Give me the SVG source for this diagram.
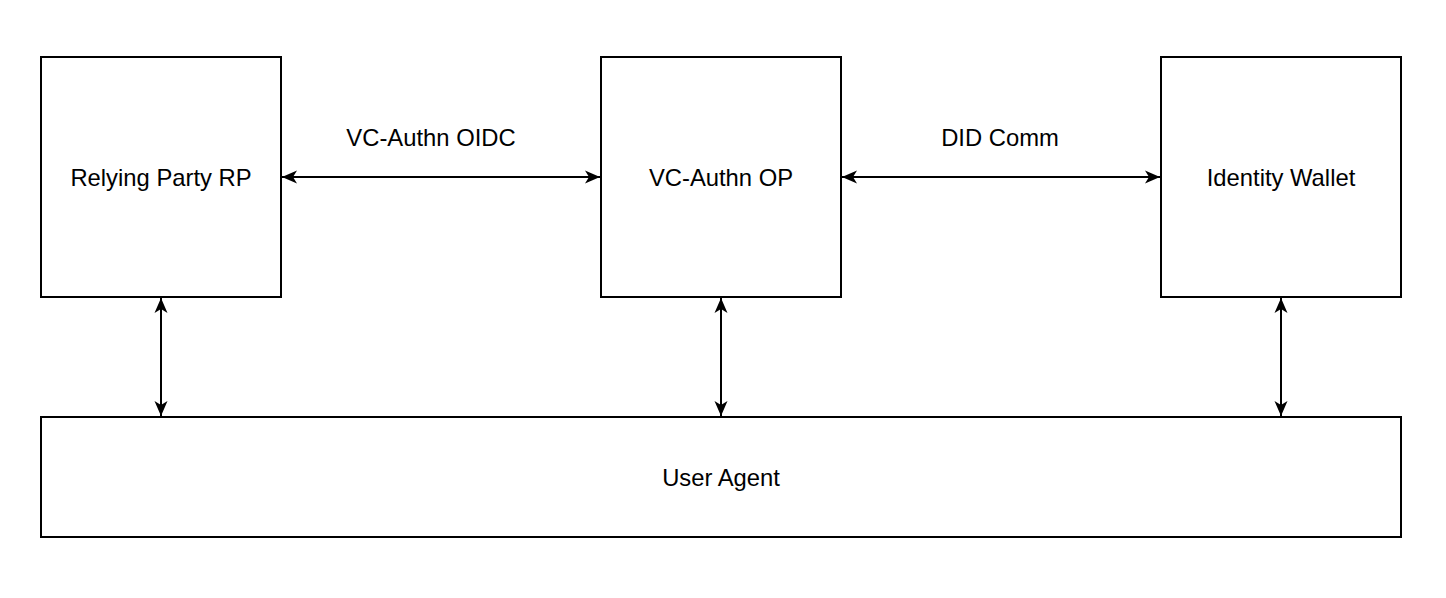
<svg xmlns="http://www.w3.org/2000/svg" width="1446" height="598" viewBox="0 0 1446 598">
<style>
.box{fill:#fff;stroke:#000;stroke-width:2}
.lbl{font-family:"Liberation Sans",Arial,sans-serif;font-size:23.8px;fill:#000;text-anchor:middle;dominant-baseline:central}
.edge{stroke:#000;stroke-width:2;fill:none;marker-start:url(#arr);marker-end:url(#arr)}
</style>
<defs>
<marker id="arr" viewBox="0 0 15 14" refX="15" refY="7" markerWidth="15" markerHeight="14" markerUnits="userSpaceOnUse" orient="auto-start-reverse">
<path d="M0,0.5 L15,7 L0,13.5 L4,7 Z" fill="#000"/>
</marker>
</defs>
<rect width="1446" height="598" fill="#fff"/>
<g id="rp"><rect class="box" x="41" y="57" width="240" height="240"/><text class="lbl" x="161" y="177">Relying Party RP</text></g>
<g id="op"><rect class="box" x="601" y="57" width="240" height="240"/><text class="lbl" x="721" y="177">VC-Authn OP</text></g>
<g id="wallet"><rect class="box" x="1161" y="57" width="240" height="240"/><text class="lbl" x="1281" y="177">Identity Wallet</text></g>
<g id="ua"><rect class="box" x="41" y="417" width="1360" height="120"/><text class="lbl" x="721" y="477">User Agent</text></g>
<g id="connectors">
<line class="edge" x1="282" y1="177" x2="600" y2="177"/>
<line class="edge" x1="842" y1="177" x2="1160" y2="177"/>
<line class="edge" x1="161" y1="298" x2="161" y2="416"/>
<line class="edge" x1="721" y1="298" x2="721" y2="416"/>
<line class="edge" x1="1281" y1="298" x2="1281" y2="416"/>
<text class="lbl" x="431" y="137">VC-Authn OIDC</text>
<text class="lbl" x="1000" y="137">DID Comm</text>
</g>
</svg>
